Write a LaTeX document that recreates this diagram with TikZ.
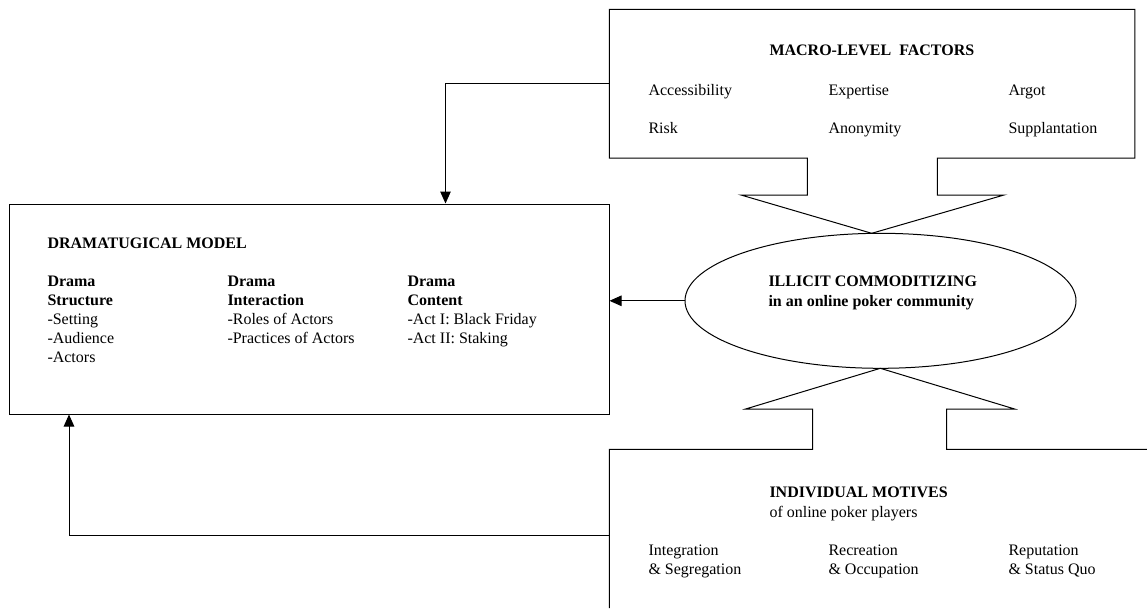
\documentclass[tikz,border=0pt]{standalone}
\usepackage{fontspec}
\setmainfont{Liberation Serif}
\usetikzlibrary{arrows.meta,positioning}
\usetikzlibrary{shapes.geometric}

\begin{document}
\begin{tikzpicture}[x=1pt,y=-1pt,
    line width=1pt,
    box/.style={draw=black, rectangle, inner sep=0pt},
    lbl/.style={inner sep=0pt, anchor=base west, font=\fontsize{16}{19}\selectfont},
    col/.style={inner sep=0pt, anchor=north west, align=left, font=\fontsize{16}{19}\selectfont},
    arr/.style={-{Triangle[length=12pt,width=10.5pt]}}]
		\useasboundingbox (0,0) rectangle (1147,608);

		% macro-level factors, with its funnel
		\draw (609.4,9.4) -- (1134.8,9.4) -- (1134.8,158) -- (937.3,158) -- (937.3,195) -- (1004,195)
		-- (871.7,233.3) -- (741,195) -- (807.3,195) -- (807.3,158) -- (609.4,158) -- cycle;
		\coordinate (macroL) at (609.4,83.5);
		\node[lbl] (macrotitle) at (769,55) {\textbf{MACRO-LEVEL\ \ FACTORS}};
		\node[lbl] (access) at (648,95) {Accessibility};
		\node[lbl] (expert) at (828,95) {Expertise};
		\node[lbl] (argot) at (1008,95) {Argot};
		\node[lbl] (risk) at (648,133) {Risk};
		\node[lbl] (anon) at (828,133) {Anonymity};
		\node[lbl] (suppl) at (1008,133) {Supplantation};

		% dramatugical model
		\node[box, minimum width=600, minimum height=210] (drama) at (309,309) {};
		\node[lbl] (dramatitle) at (47,248) {\textbf{DRAMATUGICAL\ MODEL}};
		\node[col] (structure) at (47,275.4) {\textbf{Drama}\\\textbf{Structure}\\-Setting\\-Audience\\-Actors};
		\node[col] (interact) at (227,275.4) {\textbf{Drama}\\\textbf{Interaction}\\-Roles\ of Actors\\-Practices\ of Actors};
		\node[col] (content) at (407,275.4) {\textbf{Drama}\\\textbf{Content}\\-Act I: Black\ Friday\\-Act II: Staking};

		% illicit commoditizing
		\node[draw=black, ellipse, minimum width=391, minimum height=135, inner sep=0pt] (commod) at (880.5,300.8) {};
		\node[col, font=\fontsize{16}{20}\selectfont\bfseries] (commodtxt) at (768,275.4) {ILLICIT COMMODITIZING\\in an online poker community};

		% individual motives, with its funnel
		\draw (1147,449.3) -- (946.7,449.3) -- (946.7,409) -- (1014.6,409) -- (880.3,368.3)
		-- (745.6,409) -- (812.5,409) -- (812.5,449.3) -- (609.4,449.3) -- (609.4,608);
		\coordinate (motivL) at (609.4,535);
		\node[col, font=\fontsize{16}{20}\selectfont] (motivtitle) at (769,486.4) {\textbf{INDIVIDUAL MOTIVES}\\of online poker players};
		\node[col] (integr) at (648,544.4) {Integration\\\&~Segregation};
		\node[col] (recre) at (828,544.4) {Recreation\\\&~Occupation};
		\node[col] (reput) at (1008,544.4) {Reputation\\\&~Status\ Quo};

		% connectors
		\draw[arr] (macroL) -| ([xshift=136.5pt]drama.north);
		\draw[arr] (commod.west) -- (commod.west -| drama.east);
		\draw[arr] (motivL) -| ([xshift=-240pt]drama.south);
	\end{tikzpicture}
\end{document}
